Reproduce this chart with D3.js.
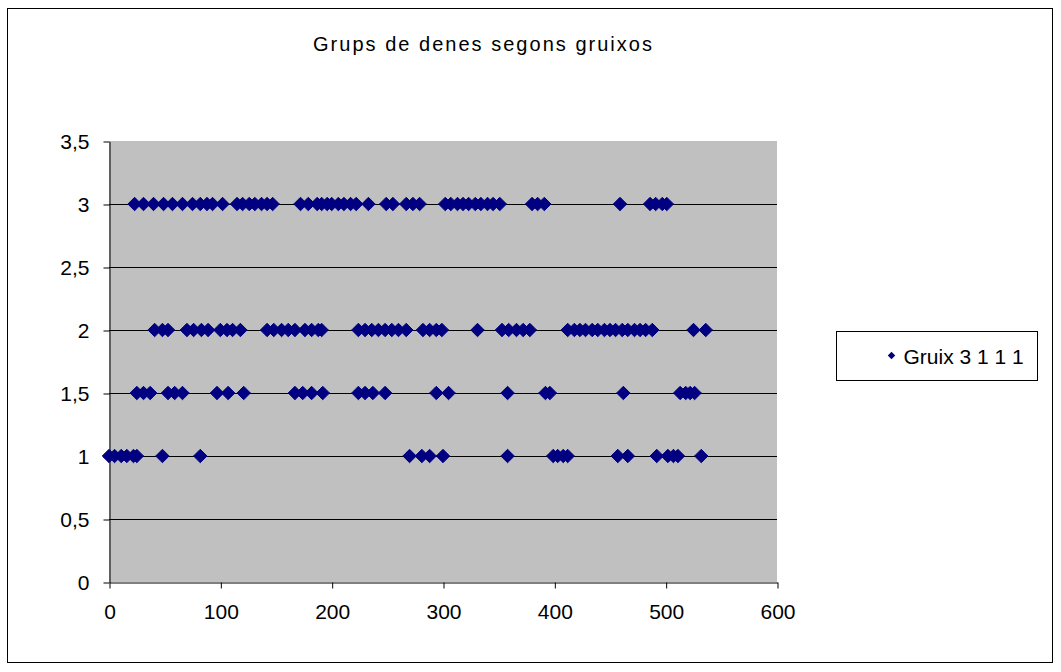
<!DOCTYPE html>
<html>
<head>
<meta charset="utf-8">
<title>Grups de denes segons gruixos</title>
<style>
  body { margin: 0; background: #fff; }
  text { font-family: "Liberation Sans", Arial, sans-serif; fill: #000; }
</style>
</head>
<body>
<svg width="1061" height="672"></svg>
<script src="https://d3js.org/d3.v7.min.js"></script>
<script>
// x positions of the beads, one list per thickness group (y value)
var group3 = [23, 31, 40, 49, 57, 66, 75, 82, 88, 93, 102, 115, 120, 126, 131, 137, 142, 147,
  172, 179, 187, 191, 196, 200, 206, 211, 217, 222, 233, 249, 255, 267, 273, 279,
  302, 307, 313, 318, 323, 329, 334, 340, 345, 351, 380, 385, 391, 459, 486, 491, 497, 501];
var group2 = [41, 48, 53, 70, 76, 83, 89, 100, 106, 111, 118, 142, 148, 155, 161, 167,
  176, 182, 188, 191, 224, 230, 236, 242, 248, 254, 260, 267, 282, 288, 294, 299, 331,
  353, 359, 366, 372, 378, 412, 418, 423, 428, 434, 439, 445, 450, 455, 461, 466, 472,
  477, 482, 488, 525, 536];
var group15 = [25, 31, 37, 53, 59, 66, 97, 107, 121, 167, 174, 182, 192, 224, 230, 237, 248,
  294, 305, 358, 392, 396, 462, 513, 518, 522, 526];
var group1 = [0, 5, 11, 16, 22, 25, 48, 82, 270, 281, 288, 300, 358, 399, 403, 408, 412,
  457, 466, 492, 502, 507, 511, 532];

var yTicks = [0, 0.5, 1, 1.5, 2, 2.5, 3, 3.5];
var xTicks = [0, 100, 200, 300, 400, 500, 600];
var seriesName = "Gruix 3 1 1 1";
var title = "Grups de denes segons gruixos";

var points = []
  .concat(group3.map(function(x) { return [x, 3]; }))
  .concat(group2.map(function(x) { return [x, 2]; }))
  .concat(group15.map(function(x) { return [x, 1.5]; }))
  .concat(group1.map(function(x) { return [x, 1]; }));

var svg = d3.select("svg");
var plot = { left: 109, top: 141, right: 777, bottom: 582 };

var x = d3.scaleLinear().domain([0, 600]).range([plot.left, plot.right]);
var y = d3.scaleLinear().domain([0, 3.5]).range([plot.bottom, plot.top]);
var comma = function(d) { return String(d).replace(".", ","); };

// chart frame
svg.append("rect")
    .attr("x", 7.5).attr("y", 8.5).attr("width", 1045).attr("height", 654)
    .attr("fill", "#fff").attr("stroke", "#000");

svg.append("text")
    .attr("x", 313).attr("y", 51)
    .attr("textLength", 339)
    .attr("lengthAdjust", "spacing")
    .style("font-size", "20px")
    .text(title);

// plot area
svg.append("rect")
    .attr("x", plot.left).attr("y", plot.top)
    .attr("width", plot.right - plot.left).attr("height", plot.bottom - plot.top)
    .attr("fill", "#c0c0c0");

svg.append("g")
  .selectAll("line")
  .data(yTicks.filter(function(d) { return d > 0 && d < 3.5; }))
  .enter().append("line")
    .attr("x1", plot.left).attr("x2", plot.right)
    .attr("y1", function(d) { return Math.round(y(d)) + 0.5; })
    .attr("y2", function(d) { return Math.round(y(d)) + 0.5; })
    .attr("stroke", "#000");

var yAxis = svg.append("g")
    .attr("transform", "translate(" + (plot.left + 0.5) + ",0.5)")
    .call(d3.axisLeft(y).tickValues(yTicks).tickFormat(comma).tickSize(6).tickSizeOuter(0).tickPadding(14));
var xAxis = svg.append("g")
    .attr("transform", "translate(0.5," + (plot.bottom + 0.5) + ")")
    .call(d3.axisBottom(x).tickValues(xTicks).tickSize(6).tickSizeOuter(0).tickPadding(16));

[yAxis, xAxis].forEach(function(a) {
  a.selectAll("path, line").attr("stroke", "#000");
  a.selectAll("text")
      .style("font-family", "'Liberation Sans', Arial, sans-serif")
      .style("font-size", "21px")
      .attr("fill", "#000");
});

// beads
var diamond = d3.symbol().type(d3.symbolDiamond2).size(115);
svg.append("g")
  .selectAll("path")
  .data(points)
  .enter().append("path")
    .attr("d", diamond)
    .attr("transform", function(d) { return "translate(" + x(d[0]) + "," + y(d[1]) + ")"; })
    .attr("fill", "#000080")
    .attr("stroke", "#000080")
    .attr("stroke-width", 1);

// legend
var legend = svg.append("g").attr("transform", "translate(836.5,331.5)");
legend.append("rect")
    .attr("width", 201).attr("height", 49)
    .attr("fill", "#fff").attr("stroke", "#000");
legend.append("path")
    .attr("d", d3.symbol().type(d3.symbolDiamond2).size(36))
    .attr("transform", "translate(55,24)")
    .attr("fill", "#000080");
legend.append("text")
    .attr("x", 67).attr("y", 32)
    .style("font-size", "21px")
    .text(seriesName);
</script>
</body>
</html>
